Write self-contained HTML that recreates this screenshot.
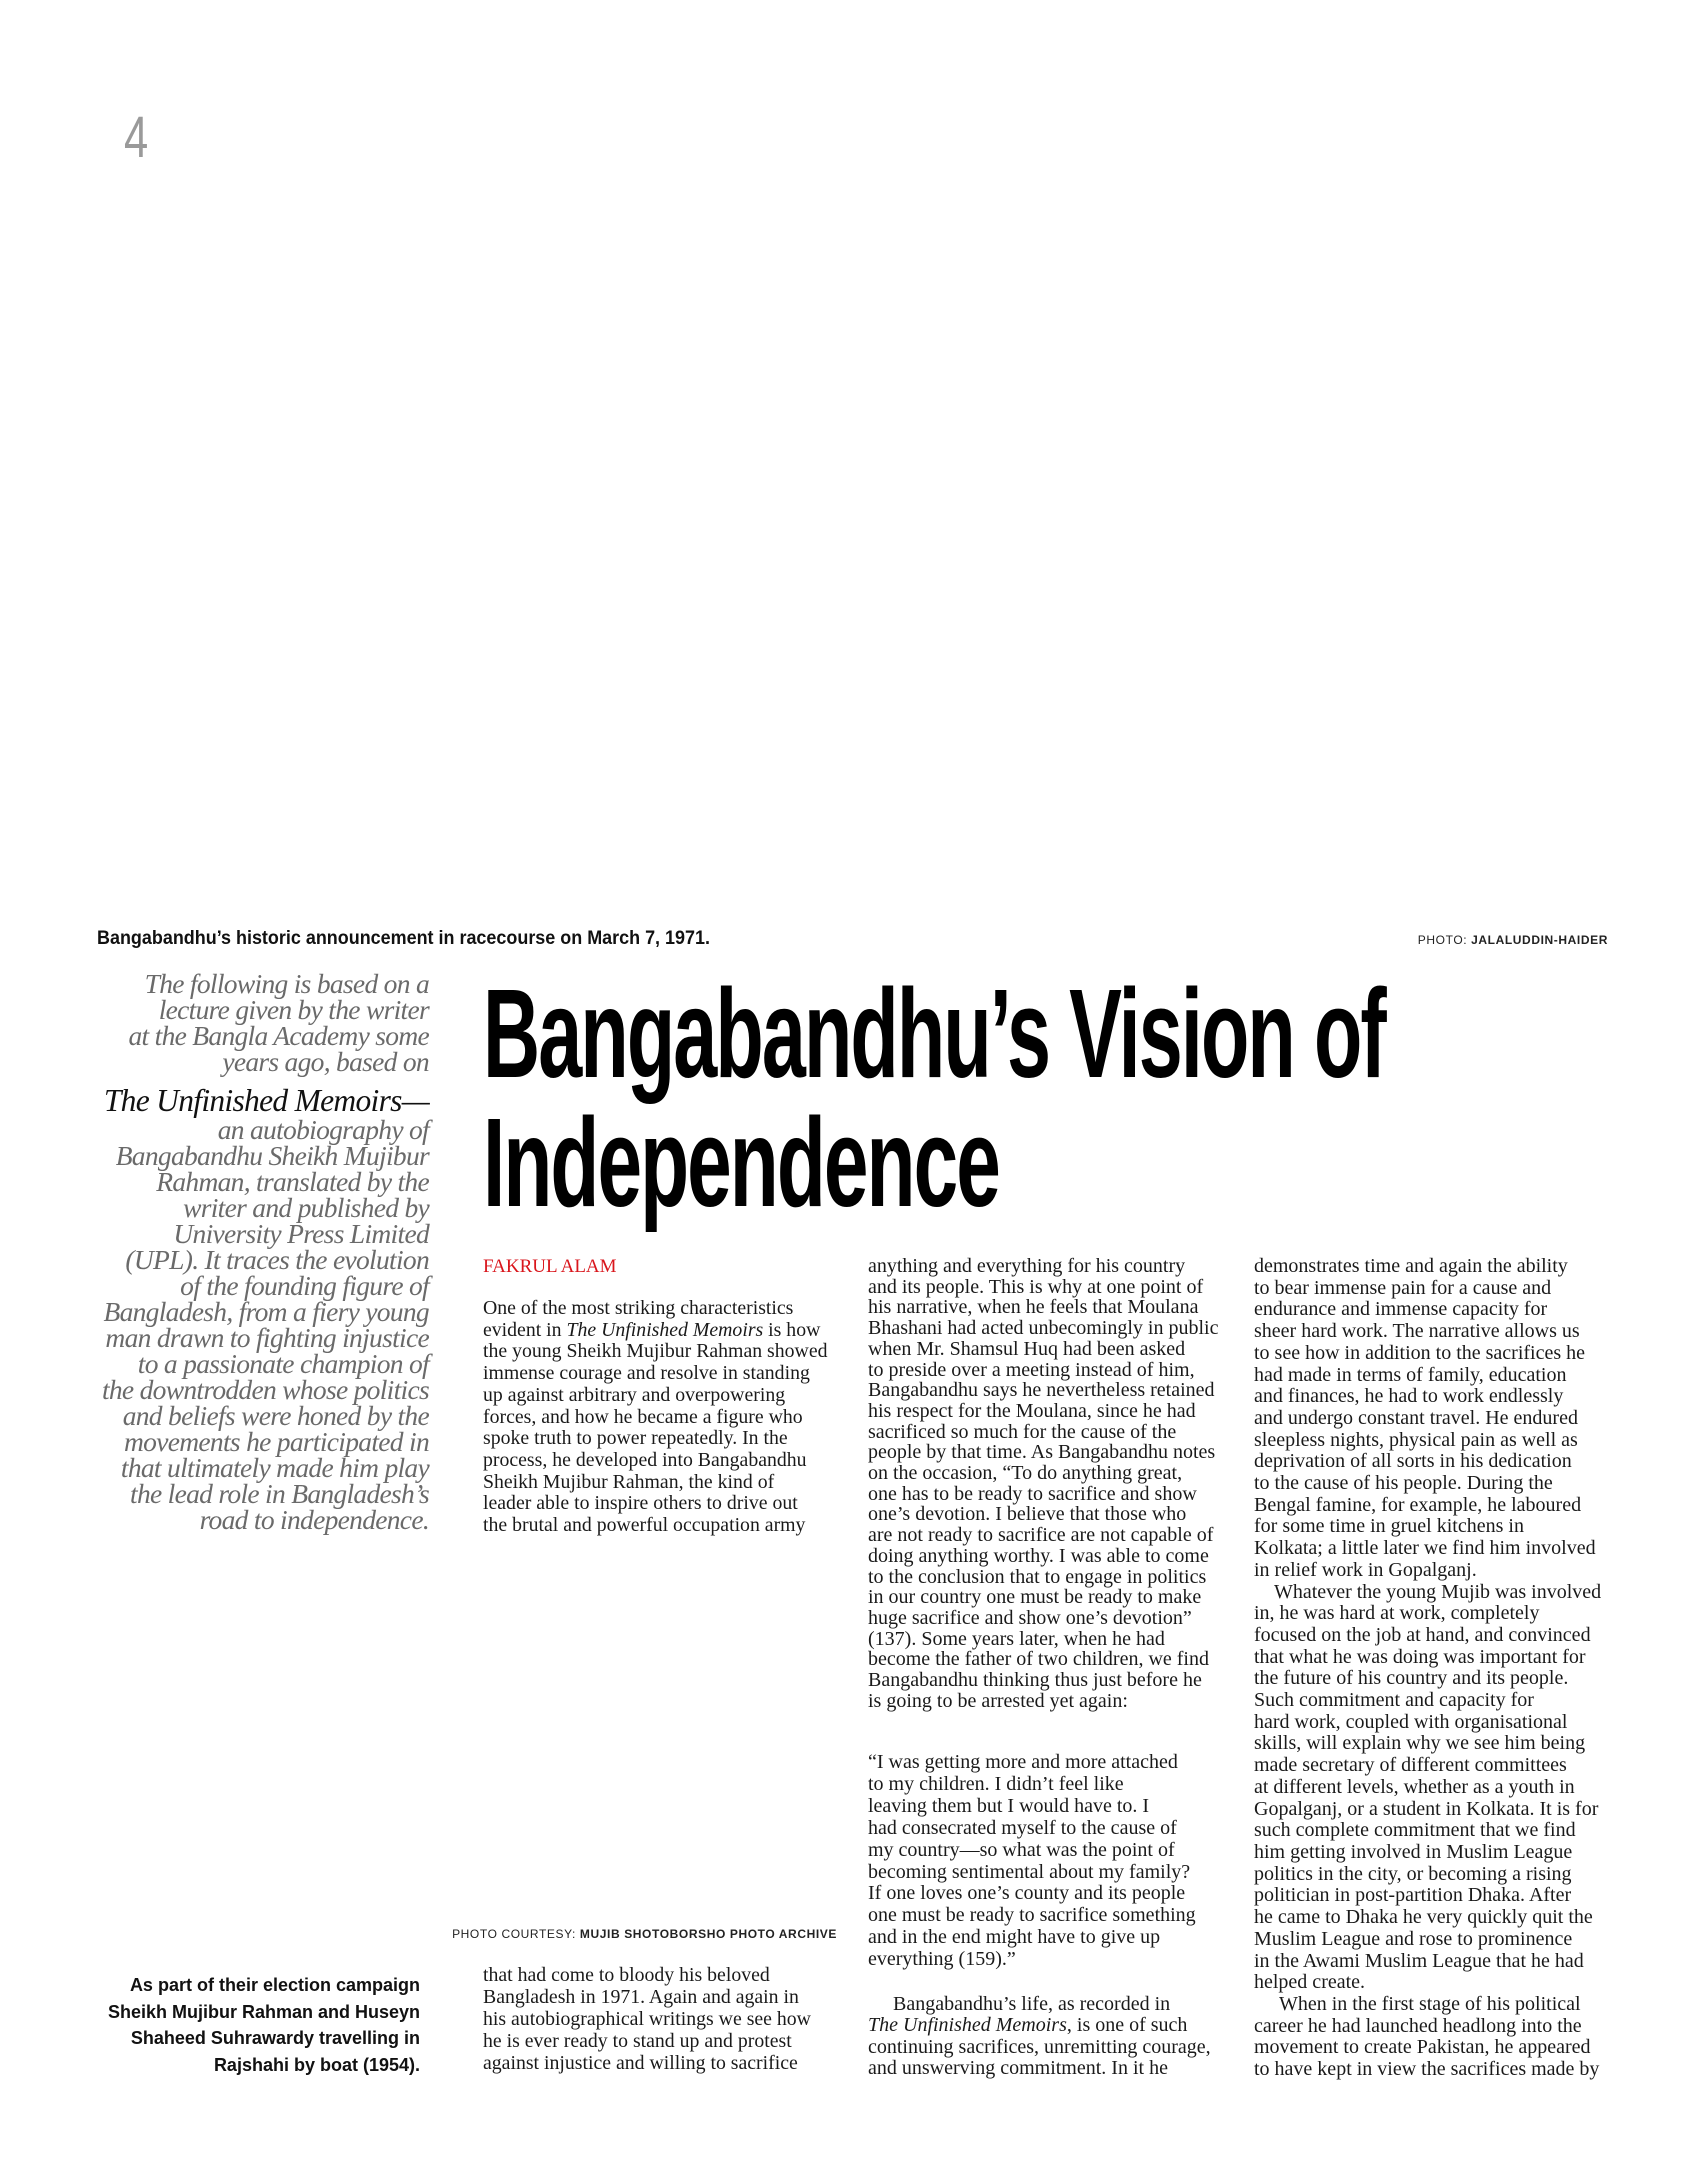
<!DOCTYPE html>
<html><head><meta charset="utf-8"><style>
html,body{margin:0;padding:0;background:#fff;}
body{width:1705px;height:2170px;position:relative;overflow:hidden;font-family:"Liberation Serif",serif;color:#1a1a1a;}
.a{position:absolute;white-space:nowrap;}
.num{left:124px;top:104px;font-family:"Liberation Sans",sans-serif;font-size:58px;font-weight:300;color:#9a9a9a;transform:scaleX(0.75);transform-origin:left;}
.cap{font-family:"Liberation Sans",sans-serif;font-weight:bold;font-size:19px;transform:scaleX(0.945);transform-origin:left;color:#111;}
.pc{font-family:"Liberation Sans",sans-serif;font-size:12px;letter-spacing:0.6px;color:#222;}
.intro{right:1276px;text-align:right;font-style:italic;font-size:27.5px;line-height:26px;color:#6a6a6a;letter-spacing:-0.7px;}
.title{left:483px;font-family:"Liberation Sans",sans-serif;font-weight:bold;font-size:126px;line-height:124px;color:#000;transform-origin:left top;letter-spacing:-3px;}
.body{font-size:20px;color:#1a1a1a;}
.bcap{right:1285px;text-align:right;font-family:"Liberation Sans",sans-serif;font-weight:bold;font-size:18px;line-height:26.5px;color:#111;}
</style></head><body>
<div class="a num">4</div>
<div class="a cap" style="left:97px;top:928px;">Bangabandhu’s historic announcement in racecourse on March 7, 1971.</div>
<div class="a pc" style="right:97px;top:933px;">PHOTO: <b>JALALUDDIN-HAIDER</b></div>

<div class="a intro" style="top:971px;">The following is based on a<br>lecture given by the writer<br>at the Bangla Academy some<br>years ago, based on</div>
<div class="a intro" style="top:1084px;font-size:31.5px;line-height:34px;color:#111;">The Unfinished Memoirs—</div>
<div class="a intro" style="top:1117px;">an autobiography of<br>Bangabandhu Sheikh Mujibur<br>Rahman, translated by the<br>writer and published by<br>University Press Limited<br>(UPL). It traces the evolution<br>of the founding figure of<br>Bangladesh, from a fiery young<br>man drawn to fighting injustice<br>to a passionate champion of<br>the downtrodden whose politics<br>and beliefs were honed by the<br>movements he participated in<br>that ultimately made him play<br>the lead role in Bangladesh’s<br>road to independence.</div>

<div class="a title" style="top:972px;transform:scaleX(0.628);">Bangabandhu’s Vision of</div>
<div class="a title" style="top:1101px;transform:scaleX(0.636);">Independence</div>

<div class="a" style="left:483px;top:1256px;font-size:19px;color:#d9161c;">FAKRUL ALAM</div>

<div class="a body" style="left:483px;top:1298px;line-height:21.7px;font-size:19.8px;">One of the most striking characteristics<br>evident in <i>The Unfinished Memoirs</i> is how<br>the young Sheikh Mujibur Rahman showed<br>immense courage and resolve in standing<br>up against arbitrary and overpowering<br>forces, and how he became a figure who<br>spoke truth to power repeatedly. In the<br>process, he developed into Bangabandhu<br>Sheikh Mujibur Rahman, the kind of<br>leader able to inspire others to drive out<br>the brutal and powerful occupation army</div>

<div class="a pc" style="right:868px;top:1927px;">PHOTO COURTESY: <b>MUJIB SHOTOBORSHO PHOTO ARCHIVE</b></div>

<div class="a bcap" style="top:1972px;">As part of their election campaign<br>Sheikh Mujibur Rahman and Huseyn<br>Shaheed Suhrawardy travelling in<br>Rajshahi by boat (1954).</div>

<div class="a body" style="left:483px;top:1965px;line-height:21.9px;font-size:19.8px;">that had come to bloody his beloved<br>Bangladesh in 1971. Again and again in<br>his autobiographical writings we see how<br>he is ever ready to stand up and protest<br>against injustice and willing to sacrifice</div>

<div class="a body" style="left:868px;top:1256px;line-height:20.7px;">anything and everything for his country<br>and its people. This is why at one point of<br>his narrative, when he feels that Moulana<br>Bhashani had acted unbecomingly in public<br>when Mr. Shamsul Huq had been asked<br>to preside over a meeting instead of him,<br>Bangabandhu says he nevertheless retained<br>his respect for the Moulana, since he had<br>sacrificed so much for the cause of the<br>people by that time. As Bangabandhu notes<br>on the occasion, “To do anything great,<br>one has to be ready to sacrifice and show<br>one’s devotion. I believe that those who<br>are not ready to sacrifice are not capable of<br>doing anything worthy. I was able to come<br>to the conclusion that to engage in politics<br>in our country one must be ready to make<br>huge sacrifice and show one’s devotion”<br>(137). Some years later, when he had<br>become the father of two children, we find<br>Bangabandhu thinking thus just before he<br>is going to be arrested yet again:</div>
<div class="a body" style="left:868px;top:1752px;line-height:21.9px;">“I was getting more and more attached<br>to my children. I didn’t feel like<br>leaving them but I would have to. I<br>had consecrated myself to the cause of<br>my country—so what was the point of<br>becoming sentimental about my family?<br>If one loves one’s county and its people<br>one must be ready to sacrifice something<br>and in the end might have to give up<br>everything (159).”</div>
<div class="a body" style="left:868px;top:1994px;line-height:21.4px;">&nbsp;&nbsp;&nbsp;&nbsp;&nbsp;Bangabandhu’s life, as recorded in<br><i>The Unfinished Memoirs</i>, is one of such<br>continuing sacrifices, unremitting courage,<br>and unswerving commitment. In it he</div>

<div class="a body" style="left:1254px;top:1256px;line-height:21.7px;">demonstrates time and again the ability<br>to bear immense pain for a cause and<br>endurance and immense capacity for<br>sheer hard work. The narrative allows us<br>to see how in addition to the sacrifices he<br>had made in terms of family, education<br>and finances, he had to work endlessly<br>and undergo constant travel. He endured<br>sleepless nights, physical pain as well as<br>deprivation of all sorts in his dedication<br>to the cause of his people. During the<br>Bengal famine, for example, he laboured<br>for some time in gruel kitchens in<br>Kolkata; a little later we find him involved<br>in relief work in Gopalganj.<br>&nbsp;&nbsp;&nbsp;&nbsp;Whatever the young Mujib was involved<br>in, he was hard at work, completely<br>focused on the job at hand, and convinced<br>that what he was doing was important for<br>the future of his country and its people.<br>Such commitment and capacity for<br>hard work, coupled with organisational<br>skills, will explain why we see him being<br>made secretary of different committees<br>at different levels, whether as a youth in<br>Gopalganj, or a student in Kolkata. It is for<br>such complete commitment that we find<br>him getting involved in Muslim League<br>politics in the city, or becoming a rising<br>politician in post-partition Dhaka. After<br>he came to Dhaka he very quickly quit the<br>Muslim League and rose to prominence<br>in the Awami Muslim League that he had<br>helped create.<br>&nbsp;&nbsp;&nbsp;&nbsp;&nbsp;When in the first stage of his political<br>career he had launched headlong into the<br>movement to create Pakistan, he appeared<br>to have kept in view the sacrifices made by</div>
</body></html>
